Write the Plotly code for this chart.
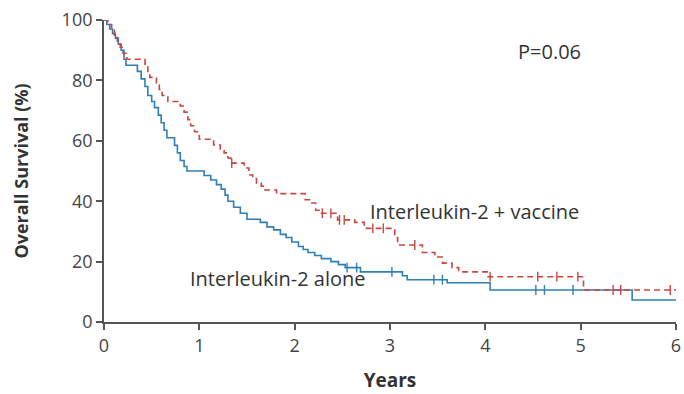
import plotly.graph_objects as go
import numpy as np

# Kaplan-Meier step points: (years, % surviving) after each drop
il2_alone_t = [0, 0.03, 0.06, 0.09, 0.12, 0.15, 0.18, 0.21, 0.23, 0.35, 0.39, 0.43, 0.46, 0.50, 0.53, 0.57,
               0.60, 0.63, 0.66, 0.74, 0.77, 0.80, 0.84, 0.87, 1.05, 1.12, 1.18, 1.23, 1.27, 1.30, 1.36,
               1.43, 1.50, 1.64, 1.71, 1.78, 1.85, 1.91, 1.97, 2.04, 2.09, 2.14, 2.21, 2.28, 2.38, 2.46,
               2.53, 2.69, 3.13, 3.18, 3.60, 4.05, 5.54, 6.0]
il2_alone_s = [100, 98.5, 97, 95.5, 94, 92, 90, 87, 85, 83, 80.5, 78, 75, 73, 71, 68.5,
               66, 63.5, 61, 58.5, 56, 53.5, 51.5, 50, 48.5, 47, 45.5, 44, 42, 40, 38,
               36, 34, 33, 31.5, 30.5, 29, 28, 26.5, 25, 24, 23, 22, 21, 20, 19,
               18, 16.6, 15.3, 14, 13, 10.6, 7.3, 7.3]

il2_vacc_t = [0, 0.04, 0.08, 0.11, 0.14, 0.17, 0.20, 0.24, 0.43, 0.46, 0.48, 0.55, 0.58, 0.61, 0.67,
              0.80, 0.84, 0.88, 0.91, 0.95, 1.00, 1.15, 1.22, 1.26, 1.30, 1.33, 1.47, 1.52, 1.56, 1.60,
              1.65, 1.69, 1.81, 2.11, 2.17, 2.22, 2.27, 2.45, 2.63, 2.73, 3.05, 3.08, 3.34, 3.47, 3.55,
              3.65, 3.72, 4.02, 5.03, 6.0]
il2_vacc_s = [100, 98.5, 97, 95, 93, 91, 89, 87, 85, 83, 81, 78.5, 77, 75, 73,
              71.5, 69.5, 67, 65, 63, 60.5, 58.6, 57.3, 56, 54.3, 52.6, 51, 48.7, 47.5, 46,
              45, 43.7, 42.5, 40.5, 39.4, 37, 36, 33.8, 33, 31, 28, 25.5, 23, 21.5, 19.5,
              18, 16.6, 15, 10.6, 10.6]

# Censored observations (years)
il2_alone_cens = [2.55, 2.65, 3.02, 3.46, 3.55, 4.53, 4.62, 4.92]
il2_vacc_cens = [1.34, 2.29, 2.38, 2.47, 2.52, 2.82, 2.93, 3.26, 4.05, 4.55, 4.75, 4.97, 5.34, 5.42, 5.94]

x_ticks = [0, 1, 2, 3, 4, 5, 6]
y_ticks = [0, 20, 40, 60, 80, 100]

RED = "#c9473f"
BLUE = "#2f7fb5"
AXIS = "#555555"
TEXT = "#333333"
FONT = "Open Sans, Noto Sans, sans-serif"


def surv_at(times, surv, t):
    idx = np.searchsorted(times, t, side="right") - 1
    return surv[idx]


fig = go.Figure()

fig.add_trace(go.Scatter(x=il2_alone_t, y=il2_alone_s, mode="lines", line_shape="hv",
                         line=dict(color=BLUE, width=1.6), showlegend=False))
fig.add_trace(go.Scatter(x=il2_vacc_t, y=il2_vacc_s, mode="lines", line_shape="hv",
                         line=dict(color=RED, width=1.6, dash="6px,4px"), showlegend=False))

fig.add_trace(go.Scatter(x=il2_alone_cens, y=[surv_at(il2_alone_t, il2_alone_s, t) for t in il2_alone_cens],
                         mode="markers", marker=dict(symbol="line-ns", size=7,
                                                      line=dict(color=BLUE, width=1.4)),
                         showlegend=False))
fig.add_trace(go.Scatter(x=il2_vacc_cens, y=[surv_at(il2_vacc_t, il2_vacc_s, t) for t in il2_vacc_cens],
                         mode="markers", marker=dict(symbol="line-ns", size=7,
                                                      line=dict(color=RED, width=1.4)),
                         showlegend=False))

fig.add_annotation(x=4.67, y=89.7, text="P=0.06", showarrow=False, xanchor="center",
                   font=dict(family=FONT, size=20, color=TEXT))
fig.add_annotation(x=2.77, y=36.5, text="Interleukin-2 + vaccine", showarrow=False, xanchor="left",
                   font=dict(family=FONT, size=20, color=TEXT))
fig.add_annotation(x=0.88, y=14.5, text="Interleukin-2 alone", showarrow=False, xanchor="left",
                   font=dict(family=FONT, size=20, color=TEXT))

fig.update_xaxes(range=[0, 6], tickvals=x_ticks, ticks="outside", ticklen=6, tickwidth=1.5, tickcolor=AXIS,
                 showline=True, linecolor=AXIS, linewidth=1.8, showgrid=False, zeroline=False,
                 ticklabeloverflow="allow", automargin=False,
                 tickfont=dict(family=FONT, size=18, color="#444444"),
                 title=dict(text="<b>Years</b>", font=dict(family=FONT, size=19, color=TEXT), standoff=18))
fig.update_yaxes(range=[0, 100], tickvals=y_ticks, ticks="outside", ticklen=6, tickwidth=1.5, tickcolor=AXIS,
                 showline=True, linecolor=AXIS, linewidth=1.8, showgrid=False, zeroline=False,
                 ticklabeloverflow="allow", automargin=False,
                 tickfont=dict(family=FONT, size=18, color="#444444"),
                 title=dict(text="<b>Overall Survival (%)</b>", font=dict(family=FONT, size=18, color=TEXT),
                            standoff=28))

fig.update_layout(width=684, height=394, margin=dict(l=104, r=8, t=20, b=72),
                  plot_bgcolor="white", paper_bgcolor="white")

fig.write_html("out.html")
